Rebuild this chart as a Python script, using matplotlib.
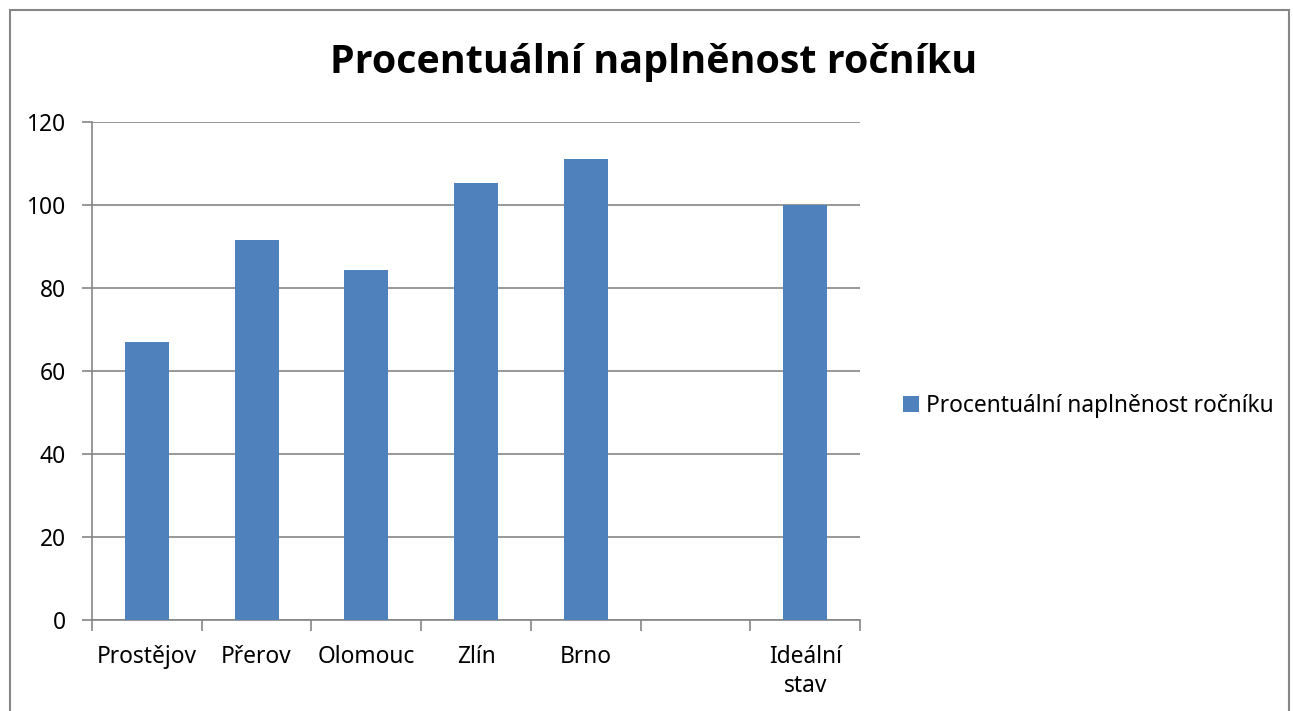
import numpy as np
import matplotlib
matplotlib.use("Agg")
import matplotlib.pyplot as plt
from matplotlib.patches import Rectangle

plt.rcParams['font.family'] = ['Noto Sans', 'DejaVu Sans']

kategorie = ["Prostějov", "Přerov", "Olomouc", "Zlín", "Brno", "", "Ideální\nstav"]
hodnoty = [67.0, 91.6, 84.3, 105.3, 111.1, np.nan, 100.0]
nazev = "Procentuální naplněnost ročníku"
y_ticks = [0, 20, 40, 60, 80, 100, 120]

barva = "#4F81BD"
seda = "#868686"
velikost = 16.4

fig = plt.figure(figsize=(12.93, 7.11), dpi=100)
ax = fig.add_axes([92 / 1293, 1 - 620 / 711, (860 - 92) / 1293, (620 - 122) / 711])

x = np.arange(len(kategorie))
ax.bar(x, hodnoty, width=0.4, color=barva, label=nazev, zorder=3)

ax.set_xlim(-0.5, len(kategorie) - 0.5)
ax.set_ylim(0, 120)
ax.set_yticks(y_ticks)
ax.yaxis.grid(True, color=seda, linewidth=1.2, zorder=0)
ax.tick_params(axis='y', length=7, width=1.2, color=seda, labelsize=velikost, pad=12)

# hranice kategorií jako hlavní značky, popisky ve středech
ax.set_xticks(np.arange(-0.5, len(kategorie)))
ax.set_xticklabels([])
ax.set_xticks(x, minor=True)
ax.set_xticklabels(kategorie, minor=True, fontsize=velikost, linespacing=1.25, va='top')
ax.tick_params(axis='x', which='minor', length=0, pad=18)
ax.tick_params(axis='x', which='major', length=8, width=1.2, color=seda)

for s in ['top', 'right']:
    ax.spines[s].set_visible(False)
for s in ['left', 'bottom']:
    ax.spines[s].set_color(seda)
    ax.spines[s].set_linewidth(1.2)

fig.text(654 / 1293, 1 - 62 / 711, nazev, ha='center', va='center',
         fontsize=28.4, fontweight='bold', family=['Open Sans', 'Liberation Sans'])

fig.legend(loc='center left', bbox_to_anchor=(894 / 1293, 1 - 406 / 711),
           frameon=False, fontsize=velikost, handlelength=0.7, handleheight=0.7,
           handletextpad=0.3, borderaxespad=0)

fig.patches.append(Rectangle((10 / 1293, -0.01), (1289 - 10) / 1293, 1 - 10 / 711 + 0.01,
                             transform=fig.transFigure, fill=False,
                             edgecolor=seda, linewidth=1.5))

fig.savefig("out.png", dpi=100)
